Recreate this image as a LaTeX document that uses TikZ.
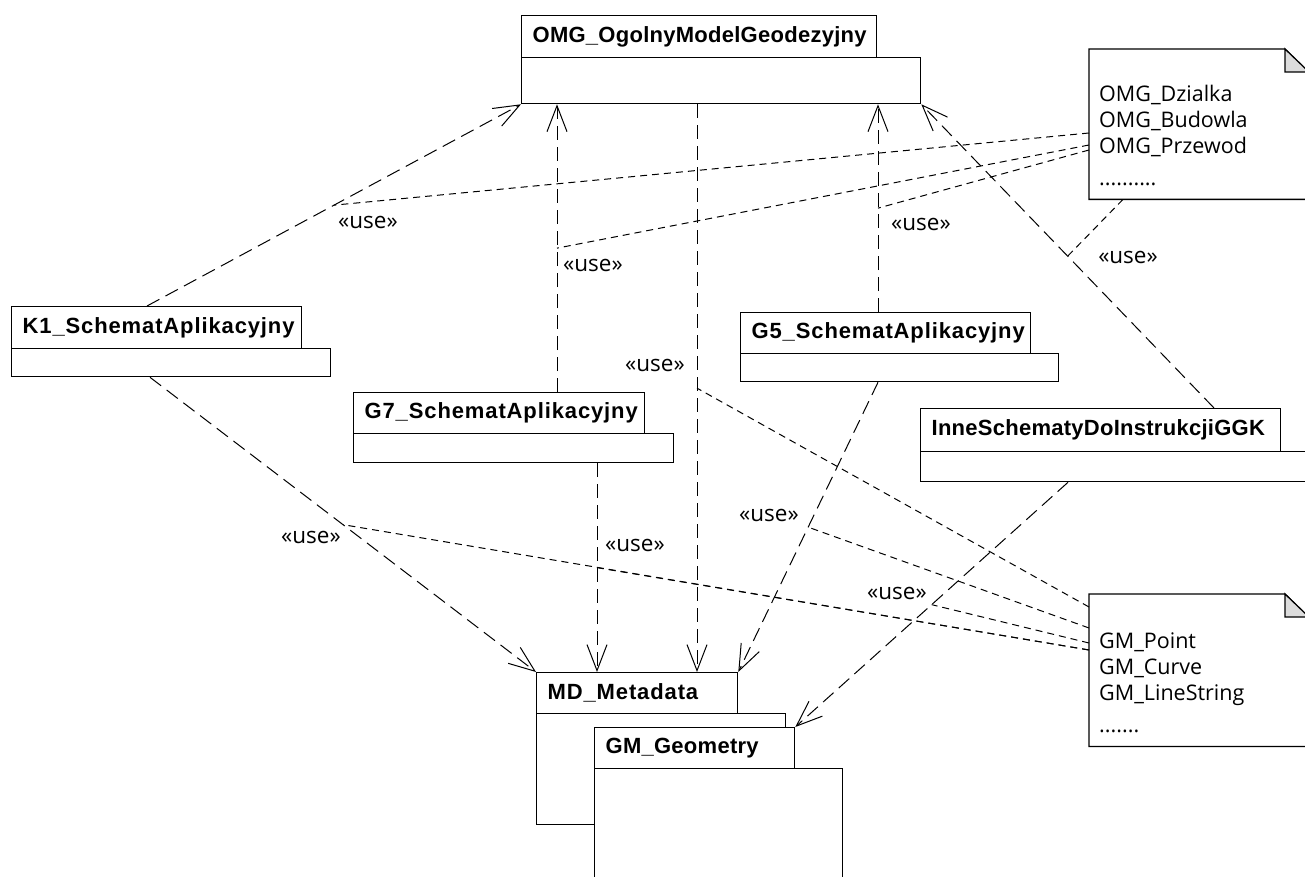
\documentclass[tikz,border=0pt]{standalone}
\usepackage{fontspec}
\setmainfont{Liberation Sans}
\newfontfamily\notefont{Open Sans}
\newfontfamily\pkgfont[LetterSpace=4]{Liberation Sans}
\newfontfamily\pkgfontn[LetterSpace=1.2]{Liberation Sans}
\usetikzlibrary{arrows.meta,calc}
\definecolor{foldgray}{RGB}{220,220,220}
\tikzset{
  pkgtab/.style={draw, line width=1.3pt, fill=white, anchor=north west, inner xsep=11pt, inner ysep=0pt, align=left, font=\pkgfont\fontsize{22}{24}\selectfont\bfseries},
  narrowtxt/.style={font=\pkgfontn\fontsize{22}{24}\selectfont\bfseries},
  pkgbody/.style={draw, line width=1.3pt, fill=white, anchor=north west, inner sep=0pt},
  notearea/.style={draw=none, anchor=north west, inner sep=0pt},
  notebox/.style={line width=1.3pt, line join=miter},
  notetxt/.style={font=\notefont\fontsize{21.5}{24}\selectfont, anchor=base west, inner sep=0pt},
  uselbl/.style={font=\notefont\fontsize{22.5}{24}\selectfont, inner sep=0pt},
  dep/.style={line width=1pt, dash pattern=on 14pt off 7pt, -{Straight Barb[length=26pt, width=20pt, line width=1pt]}},
  notelink/.style={line width=1pt, dash pattern=on 7pt off 5pt}
}
\begin{document}
\begin{tikzpicture}[x=1pt,y=-1pt]
\useasboundingbox (0,0) rectangle (1305,877);

% packages
\node[pkgbody, minimum width=399pt, minimum height=46pt] (omgB) at (521,57) {};
\node[pkgtab, narrowtxt, text width=333pt, minimum height=42pt] (omgT) at (521,15) {OMG\_OgolnyModelGeodezyjny};

\node[pkgbody, minimum width=319pt, minimum height=28pt] (k1B) at (11,348) {};
\node[pkgtab, text width=268pt, minimum height=42pt] (k1T) at (11,306) {K1\_SchematAplikacyjny};

\node[pkgbody, minimum width=320pt, minimum height=29pt] (g7B) at (353,433) {};
\node[pkgtab, text width=269pt, minimum height=41pt] (g7T) at (353,392) {G7\_SchematAplikacyjny};

\node[pkgbody, minimum width=318pt, minimum height=28pt] (g5B) at (740,353) {};
\node[pkgtab, text width=268pt, minimum height=41pt] (g5T) at (740,312) {G5\_SchematAplikacyjny};

\node[pkgbody, minimum width=390pt, minimum height=30pt] (inB) at (920,451) {};
\node[pkgtab, narrowtxt, text width=338pt, minimum height=43pt] (inT) at (920,408) {InneSchematyDoInstrukcjiGGK};

\node[pkgbody, minimum width=249pt, minimum height=111pt] (mdB) at (536,713) {};
\node[pkgtab, text width=179pt, minimum height=41pt] (mdT) at (536,672) {MD\_Metadata};

\node[pkgbody, minimum width=248pt, minimum height=115pt] (gmB) at (594,768) {};
\node[pkgtab, narrowtxt, text width=178pt, minimum height=41pt] (gmT) at (594,727) {GM\_Geometry};

% notes
\node[notearea, minimum width=220pt, minimum height=150pt] (note1) at (1089,49) {};
\draw[notebox, fill=white] (note1.north west) -- ++(196,0) -- ++(24,24) -- (note1.south east) -- (note1.south west) -- cycle;
\draw[notebox, fill=foldgray] ($(note1.north west)+(196,0)$) -- ++(0,23) -- ++(24,0) -- cycle;
\node[notetxt] (n1a) at (1099,102) {OMG\_Dzialka};
\node[notetxt] (n1b) at (1099,128) {OMG\_Budowla};
\node[notetxt] (n1c) at (1099,154) {OMG\_Przewod};
\node[notetxt] (n1d) at (1099,186) {..........};

\node[notearea, minimum width=220pt, minimum height=152pt] (note2) at (1089,594) {};
\draw[notebox, fill=white] (note2.north west) -- ++(196,0) -- ++(24,24) -- (note2.south east) -- (note2.south west) -- cycle;
\draw[notebox, fill=foldgray] ($(note2.north west)+(196,0)$) -- ++(0,23) -- ++(24,0) -- cycle;
\node[notetxt] (n2a) at (1099,648) {GM\_Point};
\node[notetxt] (n2b) at (1099,674) {GM\_Curve};
\node[notetxt] (n2c) at (1099,700) {GM\_LineString};
\node[notetxt] (n2d) at (1099,732) {.......};

% connector end points
\coordinate (k1top) at ($(k1T.north west)+(136,0)$);
\coordinate (g7top) at ($(g7T.north west)+(204,0)$);
\coordinate (omgA2) at ($(omgB.south west)+(36,0)$);
\coordinate (omgS) at ($(omgB.south west)+(176,0)$);
\coordinate (mdA3) at ($(mdT.north west)+(161,0)$);
\coordinate (g5top) at ($(g5T.north west)+(138,0)$);
\coordinate (omgA4) at ($(omgB.south west)+(357,0)$);
\coordinate (intop) at ($(inT.north west)+(294,0)$);
\coordinate (k1bot) at ($(k1B.south west)+(139,0)$);
\coordinate (g7bot) at ($(g7B.south west)+(244,0)$);
\coordinate (mdA7) at ($(mdT.north west)+(61,0)$);
\coordinate (g5bot) at ($(g5B.south west)+(138,0)$);
\coordinate (inbot) at ($(inB.south west)+(148,0)$);

% dependencies
\draw[dep] (k1top) -- (omgB.south west) coordinate[pos=.5] (m1);
\draw[dep] (g7top) -- (omgA2) coordinate[pos=.5] (m2);
\draw[dep] (omgS) -- (mdA3) coordinate[pos=.5] (m3);
\draw[dep] (g5top) -- (omgA4) coordinate[pos=.5] (m4);
\draw[dep] (intop) -- (omgB.south east) coordinate[pos=.5] (m5);
\draw[dep] (k1bot) -- (mdT.north west) coordinate[pos=.5] (m6);
\draw[dep] (g7bot) -- (mdA7) coordinate[pos=.5] (m7);
\draw[dep] (g5bot) -- (mdT.north east) coordinate[pos=.5] (m8);
\draw[dep] (inbot) -- (gmT.north east) coordinate[pos=.5] (m9);

% note attachment points
\coordinate (a1) at ($(note1.north west)+(0,84)$);
\coordinate (a2) at ($(note1.north west)+(0,96)$);
\coordinate (a4) at ($(note1.north west)+(0,101)$);
\coordinate (a5) at ($(note1.south west)+(34,0)$);
\coordinate (b3) at ($(note2.north west)+(0,13)$);
\coordinate (b8) at ($(note2.north west)+(0,34)$);
\coordinate (b9) at ($(note2.north west)+(0,49)$);
\coordinate (b7) at ($(note2.north west)+(0,56)$);

\draw[notelink] (a1) -- (m1);
\draw[notelink] (a2) -- (m2);
\draw[notelink] (a4) -- (m4);
\draw[notelink] (a5) -- (m5);
\draw[notelink] (b3) -- (m3);
\draw[notelink] (b8) -- (m8);
\draw[notelink] (b9) -- (m9);
\draw[notelink] (b7) -- (m7);
\draw[notelink] (b7) -- (m6);

% labels
\node[uselbl] (u1) at (368,222) {«use»};
\node[uselbl] (u2) at (593,265) {«use»};
\node[uselbl] (u4) at (921,224) {«use»};
\node[uselbl] (u5) at (1128,257) {«use»};
\node[uselbl] (u3) at (655,365) {«use»};
\node[uselbl] (u6) at (311,537) {«use»};
\node[uselbl] (u7) at (635,545) {«use»};
\node[uselbl] (u8) at (769,515) {«use»};
\node[uselbl] (u9) at (897,593) {«use»};
\end{tikzpicture}
\end{document}
